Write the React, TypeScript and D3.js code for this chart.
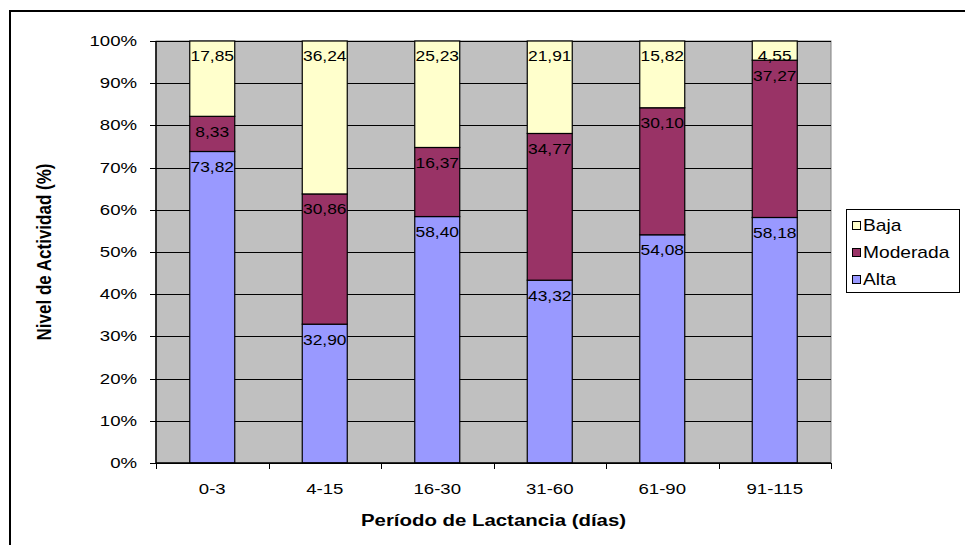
import * as d3 from "d3";

// Activity level per lactation period (percent of animals)
const periods = ["0-3", "4-15", "16-30", "31-60", "61-90", "91-115"];
const alta = [73.82, 32.9, 58.4, 43.32, 54.08, 58.18];
const moderada = [8.33, 30.86, 16.37, 34.77, 30.1, 37.27];
const baja = [17.85, 36.24, 25.23, 21.91, 15.82, 4.55];
const yTicks = [0, 10, 20, 30, 40, 50, 60, 70, 80, 90, 100];

const seriesKeys = ["Alta", "Moderada", "Baja"];
const colors: Record<string, string> = {
	Alta: "#9999FF",
	Moderada: "#993366",
	Baja: "#FFFFCC",
};

const FONT = "'Liberation Sans', Arial, sans-serif";
const SX = 1.2; // the original chart is stretched horizontally

const W = 965;
const H = 545;
const plot = { left: 156, right: 831, top: 41, bottom: 463 };

const fmt = (v: number) => v.toFixed(2).replace(".", ",");

// stretched text helper
function SText(props: {
	x: number;
	y: number;
	size: number;
	anchor?: "start" | "middle" | "end";
	bold?: boolean;
	children: string;
}) {
	return (
		<text
			transform={`translate(${props.x},${props.y}) scale(${SX},1)`}
			fontFamily={FONT}
			fontSize={props.size}
			fontWeight={props.bold ? "bold" : "normal"}
			textAnchor={props.anchor || "start"}
			dominantBaseline="central"
			fill="#000"
		>
			{props.children}
		</text>
	);
}

export default function App() {
	const rows = periods.map((p, i) => ({
		period: p,
		Alta: alta[i],
		Moderada: moderada[i],
		Baja: baja[i],
	}));

	const x = d3
		.scaleBand<string>()
		.domain(periods)
		.range([plot.left, plot.right])
		.paddingInner(0.6)
		.paddingOuter(0.3);
	const y = d3.scaleLinear().domain([0, 100]).range([plot.bottom, plot.top]);

	const stacked = d3.stack<any>().keys(seriesKeys)(rows);
	const step = x.step();
	const boundaries = d3.range(periods.length + 1).map((i) => plot.left + i * step);

	const legendItems = ["Baja", "Moderada", "Alta"];

	return (
		<svg
			width={W}
			height={H}
			style={{ position: "absolute", left: 0, top: 0, background: "#fff" }}
		>
			{/* outer chart border, runs off the right and bottom edges */}
			<rect x={10} y={11} width={W + 20} height={H + 20} fill="#fff" stroke="#000" strokeWidth={2} />

			{/* plot area */}
			<rect
				x={plot.left}
				y={plot.top}
				width={plot.right - plot.left}
				height={plot.bottom - plot.top}
				fill="#C0C0C0"
				stroke="#808080"
				strokeWidth={1}
			/>

			{/* gridlines */}
			{yTicks.map((t) => (
				<line
					key={"g" + t}
					x1={plot.left}
					x2={plot.right}
					y1={Math.round(y(t)) + 0.5}
					y2={Math.round(y(t)) + 0.5}
					stroke="#000"
					strokeWidth={1}
				/>
			))}

			{/* bars */}
			{stacked.map((s) => (
				<g key={s.key}>
					{s.map((d, i) => (
						<rect
							key={i}
							x={x(periods[i])!}
							y={y(d[1])}
							width={x.bandwidth()}
							height={y(d[0]) - y(d[1])}
							fill={colors[s.key]}
							stroke="#000"
							strokeWidth={1.2}
						/>
					))}
				</g>
			))}

			{/* data labels, inside end */}
			{stacked.map((s) => (
				<g key={"l" + s.key}>
					{s.map((d, i) => (
						<SText
							key={i}
							x={x(periods[i])! + x.bandwidth() / 2}
							y={y(d[1]) + 15.5}
							size={14.5}
							anchor="middle"
						>
							{fmt(d[1] - d[0])}
						</SText>
					))}
				</g>
			))}

			{/* y axis */}
			<line x1={plot.left} x2={plot.left} y1={plot.top} y2={plot.bottom} stroke="#000" strokeWidth={1.5} />
			{yTicks.map((t) => (
				<g key={"yt" + t}>
					<line
						x1={plot.left - 6}
						x2={plot.left}
						y1={Math.round(y(t)) + 0.5}
						y2={Math.round(y(t)) + 0.5}
						stroke="#000"
					/>
					<SText x={137} y={y(t)} size={15.5} anchor="end">
						{t + "%"}
					</SText>
				</g>
			))}

			{/* x axis */}
			<line x1={plot.left} x2={plot.right} y1={plot.bottom} y2={plot.bottom} stroke="#000" strokeWidth={1.5} />
			{boundaries.map((bx, i) => (
				<line
					key={"xt" + i}
					x1={Math.round(bx) + 0.5}
					x2={Math.round(bx) + 0.5}
					y1={plot.bottom}
					y2={plot.bottom + 6}
					stroke="#000"
				/>
			))}
			{periods.map((p) => (
				<SText key={"xl" + p} x={x(p)! + x.bandwidth() / 2} y={489} size={15.5} anchor="middle">
					{p}
				</SText>
			))}

			{/* axis titles */}
			<SText x={(plot.left + plot.right) / 2} y={520} size={17} anchor="middle" bold>
				Período de Lactancia (días)
			</SText>
			<text
				transform={`translate(44,${(plot.top + plot.bottom) / 2}) scale(${SX},1) rotate(-90)`}
				fontFamily={FONT}
				fontSize={17}
				fontWeight="bold"
				textAnchor="middle"
				dominantBaseline="central"
			>
				Nivel de Actividad (%)
			</text>

			{/* legend */}
			<rect x={846.5} y={209.5} width={113} height={83} fill="#fff" stroke="#000" strokeWidth={1} />
			{legendItems.map((k, i) => (
				<g key={"lg" + k}>
					<rect
						x={852.5}
						y={221.5 + i * 27}
						width={8}
						height={8}
						fill={colors[k]}
						stroke="#000"
						strokeWidth={1}
					/>
					<SText x={863} y={226 + i * 27} size={16}>
						{k}
					</SText>
				</g>
			))}
		</svg>
	);
}
